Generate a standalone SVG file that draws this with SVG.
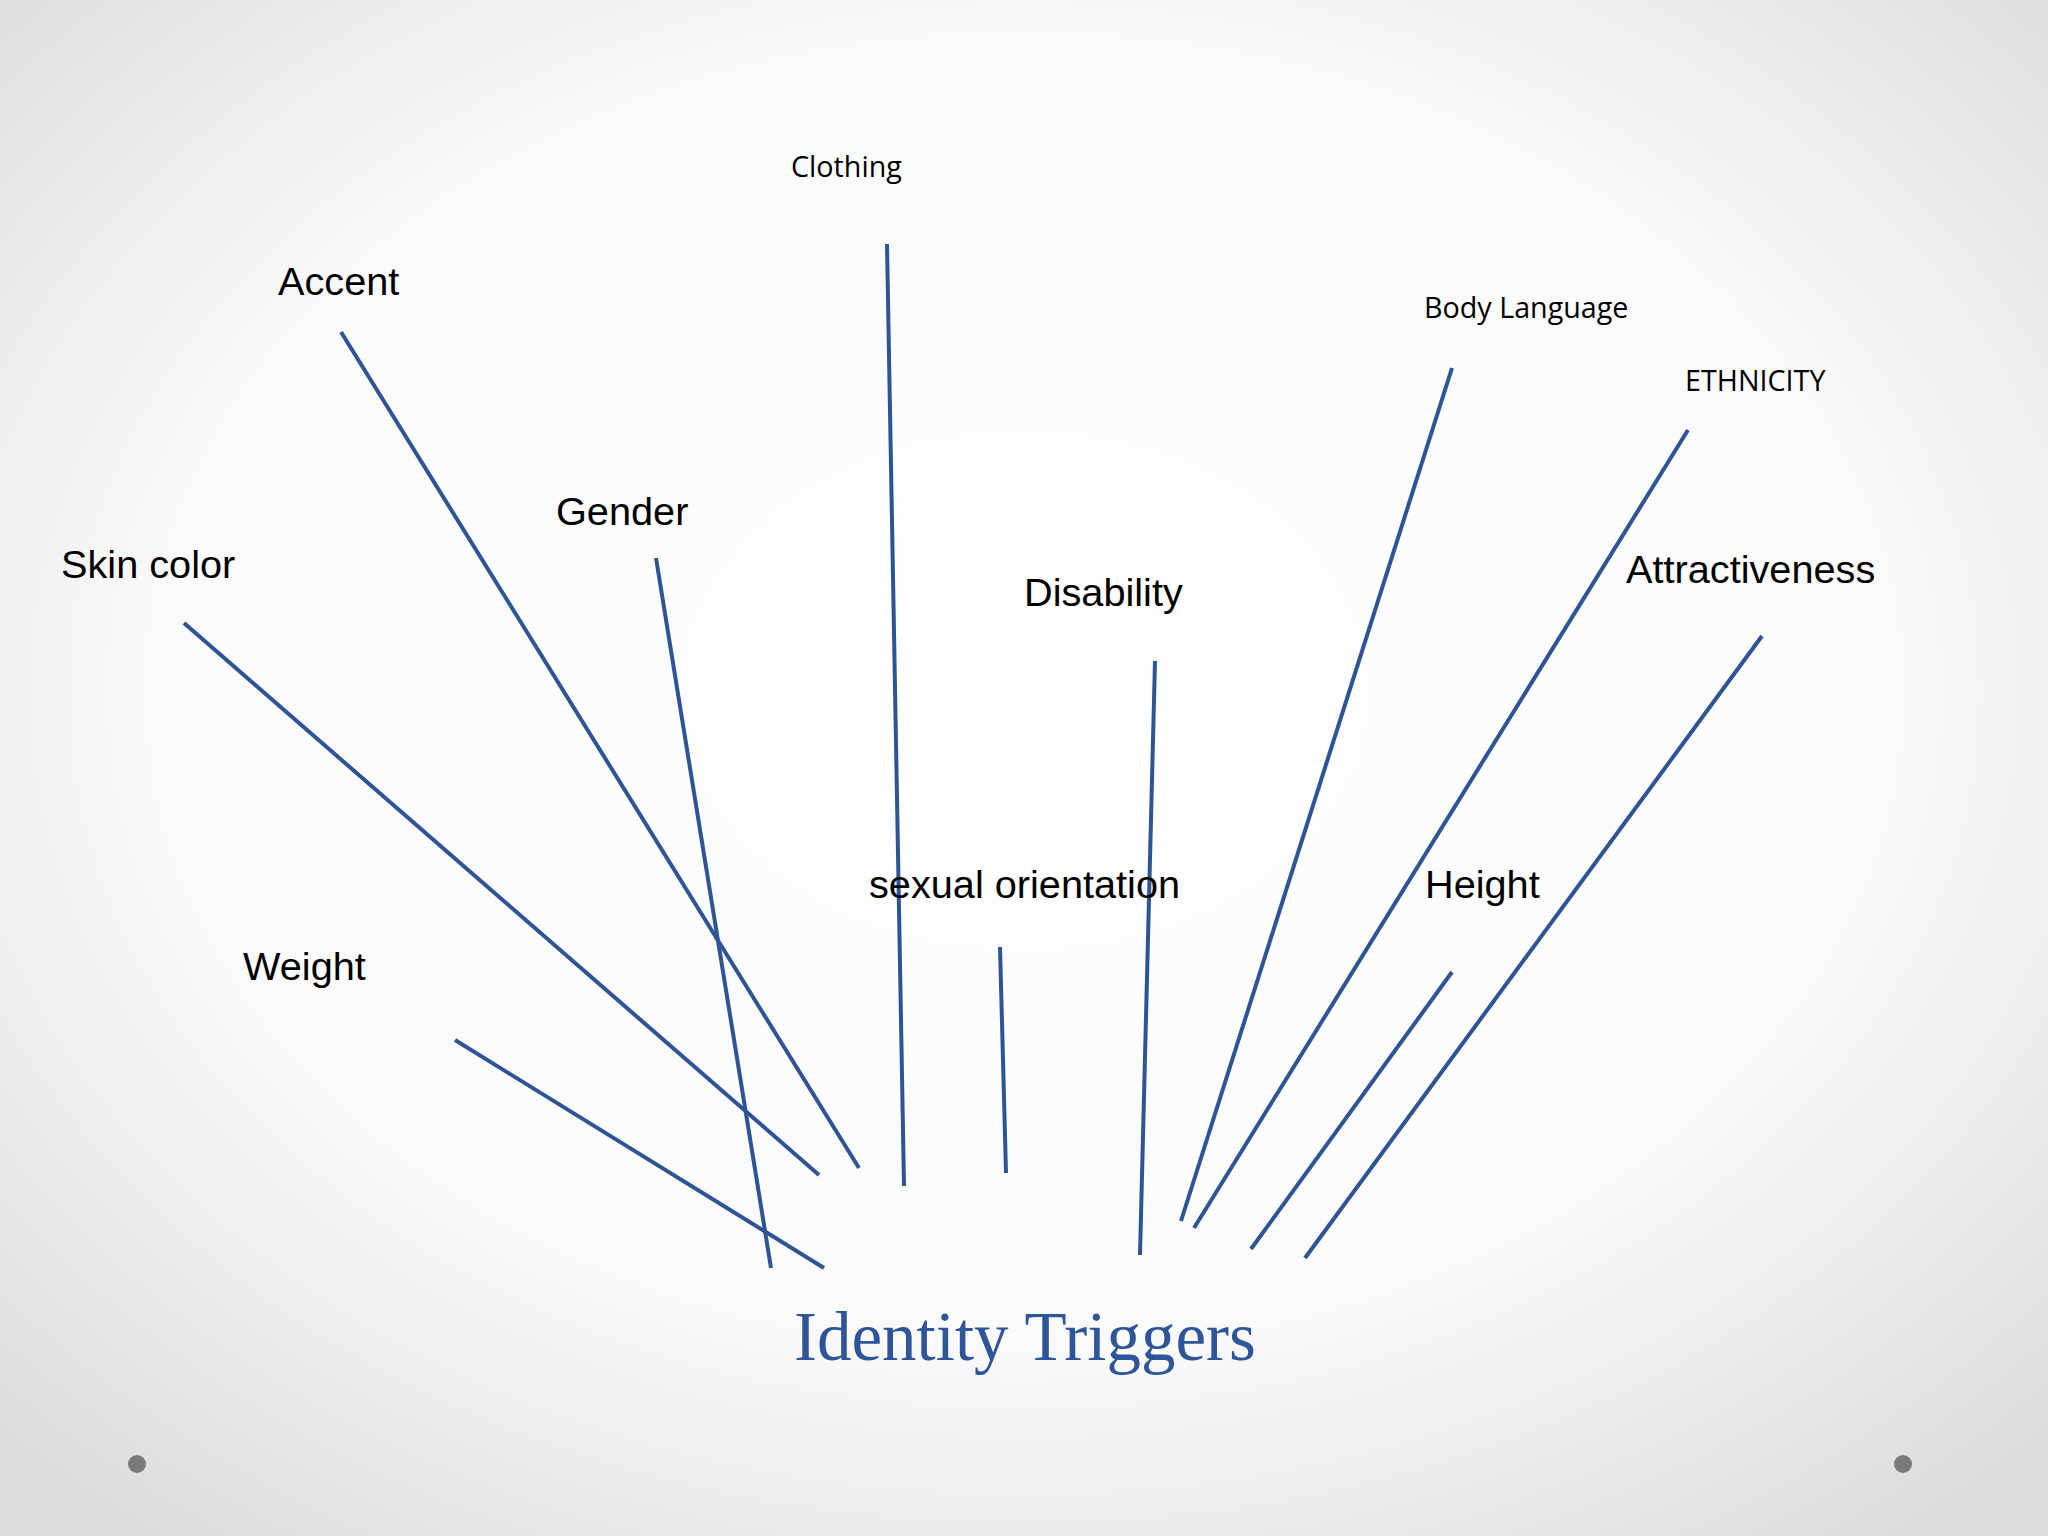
<svg xmlns="http://www.w3.org/2000/svg" width="2048" height="1536" viewBox="0 0 2048 1536">
<defs>
<radialGradient id="bg" cx="50%" cy="45%" r="70%">
<stop offset="0" stop-color="#ffffff"/><stop offset="0.6" stop-color="#fafafb"/><stop offset="1" stop-color="#dcdcdc"/>
</radialGradient>
<style>
.c line{stroke:#2f5496;stroke-width:4}
.a{font-family:"Liberation Sans",Arial,sans-serif;font-size:39.7px;fill:#000}
.b{font-family:"Open Sans","Noto Sans",sans-serif;font-size:28.7px;fill:#000}
.t{font-family:"Liberation Serif","Times New Roman",serif;font-size:69px;fill:#2e5597}
</style>
</defs>
<rect width="2048" height="1536" fill="url(#bg)"/>
<g class="c" id="connectors">
<line x1="341" y1="332" x2="859" y2="1168"/>
<line x1="887" y1="244" x2="904" y2="1186"/>
<line x1="656" y1="558" x2="771" y2="1268"/>
<line x1="184" y1="623" x2="819" y2="1175"/>
<line x1="455" y1="1040" x2="824" y2="1268"/>
<line x1="1000" y1="947" x2="1006" y2="1173"/>
<line x1="1155" y1="661" x2="1140" y2="1255"/>
<line x1="1452" y1="368" x2="1181" y2="1221"/>
<line x1="1688" y1="430" x2="1194" y2="1228"/>
<line x1="1452" y1="972" x2="1251" y2="1249"/>
<line x1="1762" y1="636" x2="1305" y2="1258"/>
</g>
<g id="clothing"><text class="b" x="791" y="177">Clothing</text></g>
<g id="accent"><text class="a" x="278" y="295">Accent</text></g>
<g id="body-language"><text class="b" x="1424" y="318">Body Language</text></g>
<g id="ethnicity"><text class="b" x="1685" y="391">ETHNICITY</text></g>
<g id="gender"><text class="a" x="556" y="525">Gender</text></g>
<g id="skin-color"><text class="a" x="61" y="578">Skin color</text></g>
<g id="disability"><text class="a" x="1024" y="606">Disability</text></g>
<g id="attractiveness"><text class="a" x="1626" y="583">Attractiveness</text></g>
<g id="sexual-orientation"><text class="a" x="869" y="898">sexual orientation</text></g>
<g id="height"><text class="a" x="1425" y="898">Height</text></g>
<g id="weight"><text class="a" x="243" y="980">Weight</text></g>
<g id="identity-triggers"><text class="t" x="794" y="1360">Identity Triggers</text></g>
<circle cx="137" cy="1464" r="9" fill="#7a7a7a"/>
<circle cx="1903" cy="1464" r="9" fill="#7a7a7a"/>
</svg>
